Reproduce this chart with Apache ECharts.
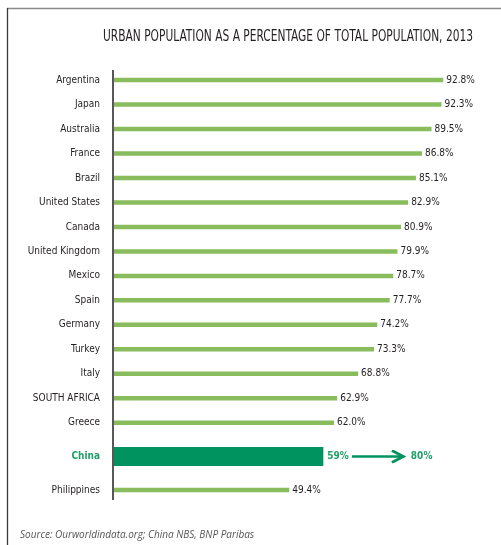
<!DOCTYPE html>
<html>
<head>
<meta charset="utf-8">
<script src="https://cdn.jsdelivr.net/npm/echarts@6/dist/echarts.min.js"></script>
<style>
  html, body { margin: 0; padding: 0; background: #ffffff; }
  #chart { width: 501px; height: 545px; }
</style>
</head>
<body>
<div id="chart"></div>
<script>
// Urban population share, 2013 (%)
const countries = ['Argentina', 'Japan', 'Australia', 'France', 'Brazil', 'United States', 'Canada',
  'United Kingdom', 'Mexico', 'Spain', 'Germany', 'Turkey', 'Italy', 'SOUTH AFRICA', 'Greece'];
const urbanShare = [92.8, 92.3, 89.5, 86.8, 85.1, 82.9, 80.9, 79.9, 78.7, 77.7, 74.2, 73.3, 68.8, 62.9, 62.0];

// Highlighted group below the main list
const lowerCountries = ['China', 'Philippines'];
const lowerShare = [59, 49.4];
const chinaTarget = 80;

const titleText = 'URBAN POPULATION AS A PERCENTAGE OF TOTAL POPULATION, 2013';
const sourceText = 'Source: Ourworldindata.org; China NBS, BNP Paribas';

const NARROW = '"DejaVu Sans Condensed", "DejaVu Sans", sans-serif';
const LIGHT_GREEN = '#88bc5c';
const DARK_GREEN = '#00935f';
const TEXT_GREEN = '#22a06b';
const INK = '#231f20';

// Arrow drawn between the current and target shares for China
const arrowSvg = 'data:image/svg+xml;utf8,' + encodeURIComponent(
  '<svg xmlns="http://www.w3.org/2000/svg" width="62" height="14" viewBox="0 0 62 14">' +
  '<path d="M3 7 H54" stroke="' + DARK_GREEN + '" stroke-width="2.6" fill="none"/>' +
  '<path d="M43 1 L54.5 7 L43 13" stroke="' + DARK_GREEN + '" stroke-width="2.8" fill="none"/>' +
  '</svg>');

// Title is set in a compressed style: measure it and squeeze to the target width
const titleFont = '16.5px "DejaVu Sans Condensed", "DejaVu Sans", sans-serif';
const titleWidth = 370;
const measureCtx = document.createElement('canvas').getContext('2d');
measureCtx.font = titleFont;
const titleScale = titleWidth / measureCtx.measureText(titleText).width;

const chart = echarts.init(document.getElementById('chart'), null, { renderer: 'canvas' });

const gridLeft = 114;
const gridWidth = 354.8;

const labelFontSize = 10;

const valueLabel = {
  show: true,
  position: 'right',
  distance: 3,
  fontFamily: NARROW,
  fontSize: labelFontSize,
  color: INK
};

chart.setOption({
  animation: false,
  grid: [
    { left: gridLeft, width: gridWidth, top: 67.8, height: 367.2 },
    { left: gridLeft, width: gridWidth, top: 439.75, height: 67 }
  ],
  xAxis: [
    { gridIndex: 0, type: 'value', min: 0, max: 100, show: false },
    { gridIndex: 1, type: 'value', min: 0, max: 100, show: false }
  ],
  yAxis: [
    {
      gridIndex: 0, type: 'category', inverse: true, data: countries,
      axisLine: { show: false }, axisTick: { show: false },
      axisLabel: { margin: 14, fontFamily: NARROW, fontSize: labelFontSize, color: INK }
    },
    {
      gridIndex: 1, type: 'category', inverse: true, data: lowerCountries,
      axisLine: { show: false }, axisTick: { show: false },
      axisLabel: {
        margin: 14, fontFamily: NARROW, fontSize: labelFontSize, color: INK,
        formatter: v => v === 'China' ? '{hl|' + v + '}' : v,
        rich: { hl: { fontFamily: NARROW, fontSize: labelFontSize, color: TEXT_GREEN, fontWeight: 'bold' } }
      }
    },
    {
      // companion axis so the wide China bar is laid out on its own, centred in its row
      gridIndex: 1, type: 'category', inverse: true, data: lowerCountries, show: false
    }
  ],
  series: [
    {
      type: 'bar', xAxisIndex: 0, yAxisIndex: 0,
      data: urbanShare,
      barWidth: 4.5,
      itemStyle: { color: LIGHT_GREEN },
      label: Object.assign({}, valueLabel, { formatter: p => p.value.toFixed(1) + '%' })
    },
    {
      type: 'bar', xAxisIndex: 1, yAxisIndex: 1,
      data: lowerShare.map((v, i) => lowerCountries[i] === 'China' ? '-' : v),
      barWidth: 4.5,
      itemStyle: { color: LIGHT_GREEN },
      label: Object.assign({}, valueLabel, { formatter: p => p.value.toFixed(1) + '%' })
    },
    {
      // China: current share, with arrow to the target share
      type: 'bar', xAxisIndex: 1, yAxisIndex: 2,
      data: lowerShare.map((v, i) => lowerCountries[i] === 'China' ? v : '-'),
      barWidth: 19,
      itemStyle: { color: DARK_GREEN },
      label: Object.assign({}, valueLabel, {
        distance: 4,
        formatter: p => '{g|' + p.value + '%}{arr|}{g|' + chinaTarget + '%}',
        rich: {
          g: { fontFamily: NARROW, fontSize: labelFontSize, color: TEXT_GREEN, fontWeight: 'bold' },
          arr: { width: 62, height: 14, backgroundColor: { image: arrowSvg } }
        }
      })
    }
  ],
  graphic: [
    // page frame
    { type: 'line', shape: { x1: 7, y1: 8.5, x2: 501, y2: 8.5 }, style: { stroke: '#8a8a8a', lineWidth: 1.4 } },
    { type: 'line', shape: { x1: 7.5, y1: 8, x2: 7.5, y2: 545 }, style: { stroke: '#3a3a3a', lineWidth: 1.3 } },
    // category axis rule
    { type: 'line', shape: { x1: 113, y1: 70, x2: 113, y2: 500 }, style: { stroke: '#111111', lineWidth: 1.4 } },
    {
      type: 'text', x: 103, y: 37, scaleX: titleScale,
      style: { text: titleText, font: titleFont, fill: INK, textVerticalAlign: 'middle', textAlign: 'left' }
    },
    {
      type: 'text', left: 20, top: 530,
      style: { text: sourceText, font: 'italic 10px "Open Sans", sans-serif', fill: '#555555' }
    }
  ]
});
</script>
</body>
</html>
